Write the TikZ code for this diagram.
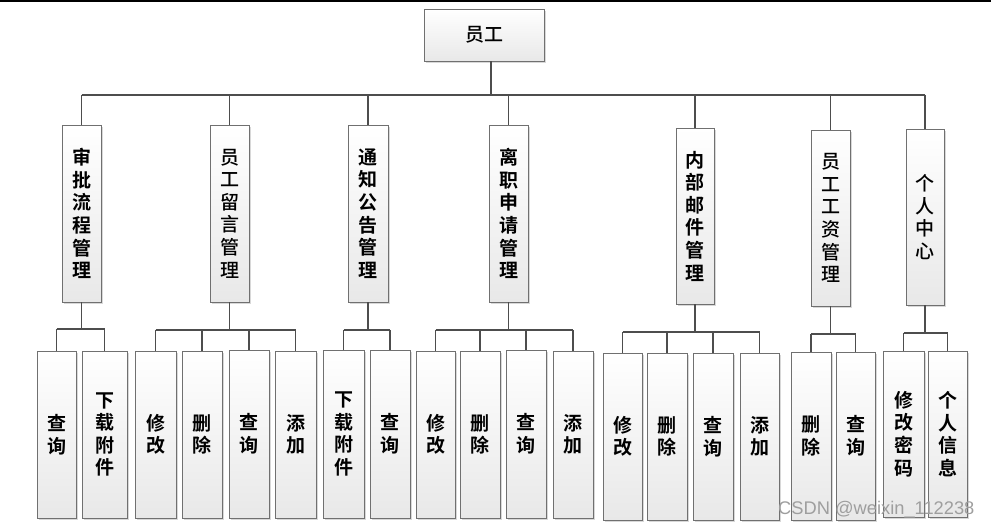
\documentclass[tikz,border=0pt]{standalone}
\usepackage{fontspec}
\newfontfamily\cjk{Noto Sans CJK SC Medium}
\newfontfamily\cjkb{Noto Sans CJK SC Bold}
\newfontfamily\wmfont{Liberation Sans}
\usetikzlibrary{shadows}
\definecolor{ln}{HTML}{4D4D4D}
\definecolor{bd}{HTML}{707070}
\tikzset{
  box/.style={draw=bd, line width=0.9pt, top color=white, bottom color=black!9,
    drop shadow={shadow xshift=1.6pt, shadow yshift=-1.6pt, fill=black!30, opacity=0.5},
    inner sep=0pt, align=center},
  conn/.style={draw=ln, line width=1.4pt},
  bt/.style={font=\cjkb\fontsize{19}{22.6}\selectfont},
  rt/.style={font=\cjk\fontsize{19}{22.6}\selectfont},
}
\newcommand\mybox[7][bt]{\node[box,#1,minimum width={(#5-#3)*1pt},minimum height={(#6-#4)*1pt}] (#2) at ({(#3+#5)/2},{(#4+#6)/2}) {#7};}
\begin{document}
\begin{tikzpicture}[x=1pt,y=-1pt]
\useasboundingbox (0,0) rectangle (991,527);
\draw[line width=1.5pt] (0,1) -- (991,1);
% root
\mybox[rt]{root}{424}{9}{544}{61}{员工}
% middle
\mybox{m1}{62}{125}{101}{302}{审\\批\\流\\程\\管\\理}
\mybox[rt]{m2}{210}{125}{249}{302}{员\\工\\留\\言\\管\\理}
\mybox{m3}{348}{125}{388}{302}{通\\知\\公\\告\\管\\理}
\mybox{m4}{489}{125}{528}{302}{离\\职\\申\\请\\管\\理}
\mybox{m5}{676}{128}{714}{304}{内\\部\\邮\\件\\管\\理}
\mybox[rt]{m6}{811}{130}{850}{306}{员\\工\\工\\资\\管\\理}
\mybox[rt]{m7}{906}{129}{944}{305}{个\\人\\中\\心}
% bottom
\mybox{a1}{37}{351}{76}{518}{查\\询}
\mybox{a2}{82}{351}{127}{518}{下\\载\\附\\件}
\mybox{b1}{135}{351}{176}{518}{修\\改}
\mybox{b2}{182}{351}{222}{518}{删\\除}
\mybox{b3}{229}{350}{269}{518}{查\\询}
\mybox{b4}{275}{351}{316}{518}{添\\加}
\mybox{c1}{323}{350}{364}{518}{下\\载\\附\\件}
\mybox{c2}{370}{350}{410}{518}{查\\询}
\mybox{d1}{416}{351}{455}{518}{修\\改}
\mybox{d2}{460}{351}{500}{518}{删\\除}
\mybox{d3}{506}{350}{546}{518}{查\\询}
\mybox{d4}{553}{351}{593}{518}{添\\加}
\mybox{e1}{603}{353}{642}{520}{修\\改}
\mybox{e2}{647}{353}{687}{520}{删\\除}
\mybox{e3}{693}{353}{733}{520}{查\\询}
\mybox{e4}{740}{353}{779}{520}{添\\加}
\mybox{f1}{791}{352}{831}{520}{删\\除}
\mybox{f2}{836}{352}{875}{520}{查\\询}
\mybox{g1}{883}{351}{924}{517}{修\\改\\密\\码}
\mybox{g2}{928}{351}{967}{517}{个\\人\\信\\息}
% top level connectors
\coordinate (tb) at (491,95);
\draw[conn] ([xshift=7pt]root.south) -- (tb);
\draw[conn] (tb -| m1.north) -- (tb -| m7.north);
\foreach \m in {m1,m2,m3,m4,m5,m6,m7} \draw[conn] (tb -| \m.north) -- (\m.north);
% second level connectors
\foreach \p/\y/\first/\last/\kids in {m1/329/a1/a2/{a1,a2}, m2/330/b1/b4/{b1,b2,b3,b4}, m3/330/c1/c2/{c1,c2}, m4/330/d1/d4/{d1,d2,d3,d4}, m5/332/e1/e4/{e1,e2,e3,e4}, m6/334/f1/f2/{f1,f2}, m7/333/g1/g2/{g1,g2}}{
  \coordinate (bus) at (0,\y);
  \draw[conn] (\p.south) -- (\p.south |- bus);
  \draw[conn] (bus -| \first.north) -- (bus -| \last.north);
  \foreach \k in \kids \draw[conn] (bus -| \k.north) -- (\k.north);
}
\node[anchor=base west, inner sep=0pt, text=black!38, font=\wmfont\fontsize{18.3}{18.3}\selectfont] (wm) at (778,514) {CSDN @weixin\_112238};
\end{tikzpicture}
\end{document}
